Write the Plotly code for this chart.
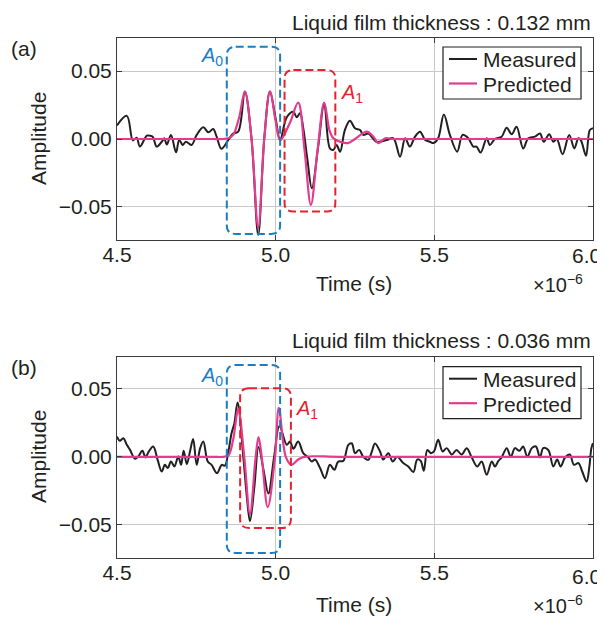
import plotly.graph_objects as go

# ---------------- data (time in microseconds, amplitude) ----------------
MEASURED_A = [
    (4.500, 0.010), (4.531, 0.017), (4.550, -0.001), (4.562, 0.001), (4.572, -0.0056),
    (4.594, 0.0024), (4.604, 0.0024), (4.613, 0.0015), (4.625, -0.0056), (4.641, -0.002),
    (4.649, 0.0005), (4.657, -0.004), (4.670, 0.003), (4.686, -0.0098), (4.696, -0.0007),
    (4.707, -0.0044), (4.717, -0.002), (4.735, -0.0044), (4.751, 0.003), (4.772, 0.0086),
    (4.788, 0.0049), (4.803, 0.0073), (4.814, 0.0017), (4.829, -0.0072), (4.851, -0.0007),
    (4.866, 0.004), (4.882, 0.0054), (4.903, 0.0348), (4.924, 0.0), (4.945, -0.0706),
    (4.964, 0.0), (4.982, 0.0348), (5.000, 0.015), (5.014, -0.0007), (5.035, 0.016),
    (5.056, 0.020), (5.066, 0.016), (5.077, 0.019), (5.087, 0.0079), (5.100, -0.015),
    (5.114, -0.0362), (5.134, -0.0056), (5.153, 0.026), (5.171, -0.0069), (5.182, -0.008),
    (5.192, -0.0044), (5.203, -0.0093), (5.218, 0.0066), (5.234, 0.0135), (5.250, 0.0079),
    (5.266, 0.0066), (5.276, 0.003), (5.292, 0.004), (5.318, -0.002), (5.350, -0.0007),
    (5.371, 0.0005), (5.392, -0.013), (5.408, 0.0005), (5.423, -0.0056), (5.439, 0.0017),
    (5.455, 0.0054), (5.471, -0.0007), (5.486, -0.002), (5.497, -0.003), (5.512, 0.0005),
    (5.530, 0.018), (5.549, 0.003), (5.572, -0.0093), (5.589, 0.003), (5.607, 0.0005),
    (5.623, -0.0056), (5.633, -0.0056), (5.646, -0.010), (5.665, 0.0005), (5.675, -0.0044),
    (5.691, 0.0), (5.712, 0.0017), (5.728, 0.0083), (5.744, 0.0035), (5.759, 0.009),
    (5.780, -0.0069), (5.796, 0.0005), (5.817, 0.0017), (5.833, 0.004), (5.845, -0.002),
    (5.862, 0.0035), (5.875, -0.002), (5.886, 0.0), (5.904, -0.0112), (5.925, 0.003),
    (5.941, -0.0069), (5.954, 0.0005), (5.962, -0.001), (5.978, -0.0123), (5.990, 0.0066),
    (6.000, 0.008),
]

PREDICTED_A = [
    (4.500, 0.0), (4.700, 0.0), (4.800, 0.0), (4.835, 0.0), (4.850, 0.0005), (4.866, 0.003),
    (4.885, 0.016), (4.903, 0.035), (4.924, 0.0), (4.945, -0.065), (4.964, 0.0),
    (4.982, 0.035), (5.000, 0.013), (5.014, -0.001), (5.045, 0.012), (5.071, 0.0267),
    (5.091, -0.008), (5.111, -0.0485), (5.132, -0.008), (5.153, 0.0267), (5.170, 0.006),
    (5.182, 0.0005), (5.203, -0.002), (5.228, -0.003), (5.250, 0.0), (5.287, 0.0054),
    (5.308, 0.0017), (5.323, -0.003), (5.345, 0.0005), (5.370, 0.0), (5.450, 0.0),
    (5.600, 0.0), (6.000, 0.0),
]

MEASURED_B = [
    (4.500, 0.0149), (4.509, 0.0118), (4.520, 0.0137), (4.531, 0.0088), (4.541, 0.0051),
    (4.557, -0.0015), (4.567, 0.0002), (4.580, 0.0044), (4.590, -0.0005), (4.599, 0.0035),
    (4.614, 0.0076), (4.628, -0.0022), (4.641, -0.0108), (4.651, -0.0059), (4.660, -0.0083),
    (4.670, -0.0035), (4.681, -0.0071), (4.693, 0.0002), (4.702, -0.0059), (4.710, 0.0044),
    (4.720, -0.0054), (4.730, 0.0039), (4.740, 0.0132), (4.751, -0.0059), (4.762, 0.0064),
    (4.772, 0.0112), (4.786, -0.0035), (4.798, -0.0059), (4.815, -0.012), (4.830, -0.0059),
    (4.840, -0.0065), (4.851, 0.0039), (4.861, 0.0174), (4.870, 0.0248), (4.880, 0.040),
    (4.898, 0.0), (4.909, -0.029), (4.919, -0.0475), (4.933, -0.0218), (4.946, 0.0072),
    (4.962, -0.010), (4.977, -0.027), (4.995, 0.0), (5.012, 0.0226), (5.035, 0.0088),
    (5.045, 0.0112), (5.056, 0.006), (5.071, 0.0112), (5.087, 0.0027), (5.103, -0.0005),
    (5.114, -0.0035), (5.124, -0.002), (5.140, -0.0083), (5.155, -0.0157), (5.171, -0.0059),
    (5.185, -0.0096), (5.197, -0.0035), (5.213, -0.003), (5.229, 0.0088), (5.240, 0.0098),
    (5.250, 0.0027), (5.263, 0.0051), (5.276, 0.0), (5.292, -0.0022), (5.303, 0.0039),
    (5.313, 0.0098), (5.329, 0.0039), (5.339, -0.002), (5.355, 0.0027), (5.369, -0.0035),
    (5.383, 0.0), (5.402, -0.0046), (5.418, -0.0071), (5.434, -0.0112), (5.446, -0.002),
    (5.457, -0.003), (5.467, -0.0103), (5.478, 0.0051), (5.489, 0.0027), (5.499, 0.004),
    (5.512, 0.0125), (5.526, 0.0039), (5.539, 0.0064), (5.555, 0.0017), (5.570, 0.0051),
    (5.586, 0.0017), (5.602, 0.0064), (5.618, -0.0005), (5.635, -0.0071), (5.649, -0.0035),
    (5.665, -0.0132), (5.681, -0.0035), (5.691, -0.0071), (5.702, -0.003), (5.712, -0.0005),
    (5.728, 0.0064), (5.741, 0.0), (5.754, 0.0064), (5.768, 0.0045), (5.780, 0.0076),
    (5.793, 0.0), (5.807, 0.0064), (5.820, 0.0076), (5.833, -0.0005), (5.843, 0.0064),
    (5.859, 0.005), (5.875, -0.0071), (5.887, -0.002), (5.898, -0.0071), (5.912, -0.0005),
    (5.927, 0.0017), (5.940, -0.0059), (5.954, -0.0046), (5.966, -0.0108), (5.980, -0.0182),
    (5.988, -0.0083), (5.995, 0.0064), (6.000, 0.010),
]

PREDICTED_B = [
    (4.500, 0.0), (4.700, 0.0), (4.800, 0.0), (4.835, 0.0), (4.851, 0.001), (4.866, 0.0125),
    (4.882, 0.035), (4.901, 0.0), (4.919, -0.042), (4.937, 0.0), (4.946, 0.0145),
    (4.956, 0.0), (4.975, -0.037), (4.998, 0.0), (5.010, 0.036), (5.032, 0.0),
    (5.050, -0.0059), (5.071, -0.002), (5.090, 0.0), (5.200, 0.0), (5.500, 0.0), (6.000, 0.0),
]

SERIES_NAMES = ["Measured", "Predicted"]
TITLES = ["Liquid film thickness : 0.132 mm", "Liquid film thickness : 0.036 mm"]
PANEL_LABELS = ["(a)", "(b)"]
X_TICKS = [4.5, 5.0, 5.5, 6.0]
X_TICK_TEXT = ["4.5", "5.0", "5.5", ""]   # last label ("6.0") drawn right-aligned below
X_END_LABEL = "6.0"
Y_TICKS = [-0.05, 0.0, 0.05]
Y_TICK_TEXT = ["\u22120.05", "0.00", "0.05"]

# window boxes (time range, amplitude range) for each panel
A0_BOX = [(4.846, 5.014, -0.0698, 0.0678), (4.846, 5.014, -0.0708, 0.0676)]
A1_BOX = [(5.028, 5.188, -0.0534, 0.0507), (4.888, 5.048, -0.0524, 0.0505)]
A0_LABEL = [(4.798, 0.0605), (4.798, 0.059)]
A1_LABEL = [(5.240, 0.0336), (5.098, 0.0345)]

# ---------------- styling ----------------
FONT = "Arial, Liberation Sans, Helvetica, sans-serif"
BLACK = "#231f20"
PINK = "#e33b8e"
BLUE = "#1a7dc1"
RED = "#e52330"
FS = 21

OFF = 8  # default page body margin of the html page
W, H = 605 - OFF, 617 - OFF
ML, MR, MT, MB = 117 - OFF, 12, 38 - OFF, 59
PH = H - MT - MB
PW = W - ML - MR


def py(p):  # screen pixel y -> paper y
    return (H - MB - (p - OFF)) / PH


def px(p):  # screen pixel x -> paper x
    return ((p - OFF) - ML) / PW


def unzip(pairs):
    return [p[0] for p in pairs], [p[1] for p in pairs]


def rrect(x0, x1, y0, y1, rx=0.028, ry=0.0062):
    return (f"M {x0+rx},{y1} L {x1-rx},{y1} Q {x1},{y1} {x1},{y1-ry} "
            f"L {x1},{y0+ry} Q {x1},{y0} {x1-rx},{y0} L {x0+rx},{y0} "
            f"Q {x0},{y0} {x0},{y0+ry} L {x0},{y1-ry} Q {x0},{y1} {x0+rx},{y1} Z")


fig = go.Figure()

panels = [(MEASURED_A, PREDICTED_A), (MEASURED_B, PREDICTED_B)]
for i, (meas, pred) in enumerate(panels):
    xa = "x" if i == 0 else "x2"
    ya = "y" if i == 0 else "y2"
    tx, ty = unzip(meas)
    fig.add_trace(go.Scatter(x=tx, y=ty, mode="lines", name=SERIES_NAMES[0],
                             line=dict(color=BLACK, width=2.0, shape="spline", smoothing=1.0),
                             xaxis=xa, yaxis=ya, showlegend=False))
    tx, ty = unzip(pred)
    fig.add_trace(go.Scatter(x=tx, y=ty, mode="lines", name=SERIES_NAMES[1],
                             line=dict(color=PINK, width=2.2, shape="spline", smoothing=1.0),
                             xaxis=xa, yaxis=ya, showlegend=False))

    for box, col in ((A0_BOX[i], BLUE), (A1_BOX[i], RED)):
        fig.add_shape(type="path", path=rrect(*box), xref=xa, yref=ya,
                      line=dict(color=col, width=2, dash="8px,4px"), layer="above")
    fig.add_annotation(x=A0_LABEL[i][0], y=A0_LABEL[i][1], xref=xa, yref=ya,
                       text="<i>A</i><sub>0</sub>", showarrow=False,
                       font=dict(family=FONT, size=20, color=BLUE))
    fig.add_annotation(x=A1_LABEL[i][0], y=A1_LABEL[i][1], xref=xa, yref=ya,
                       text="<i>A</i><sub>1</sub>", showarrow=False,
                       font=dict(family=FONT, size=20, color=RED))
    # end-of-axis tick label, right-aligned so it stays inside the page
    fig.add_annotation(x=X_TICKS[-1], y=py(256 if i == 0 else 576), xref=xa, yref="paper",
                       xanchor="right", yanchor="middle", xshift=10, text=X_END_LABEL,
                       showarrow=False, font=dict(family=FONT, size=FS, color=BLACK))

# compact legend box for each panel (drawn in paper coordinates)
for top in (47, 366.7):
    fig.add_shape(type="rect", xref="paper", yref="paper",
                  x0=px(443), x1=px(581), y0=py(top + 52), y1=py(top),
                  line=dict(color=BLACK, width=1.2), fillcolor="white", layer="above")
    for k, (name, col, wdt) in enumerate(((SERIES_NAMES[0], BLACK, 2.0),
                                          (SERIES_NAMES[1], PINK, 2.2))):
        yy = top + 12 + 24.5 * k
        fig.add_shape(type="line", xref="paper", yref="paper",
                      x0=px(449), x1=px(477), y0=py(yy), y1=py(yy),
                      line=dict(color=col, width=wdt), layer="above")
        fig.add_annotation(x=px(481), y=py(yy + 1), xref="paper", yref="paper",
                           xanchor="left", yanchor="middle", text=name, showarrow=False,
                           font=dict(family=FONT, size=FS, color=BLACK))

axis_common = dict(showline=True, linecolor="#3a3a3a", linewidth=1, mirror="ticks",
                   ticks="inside", ticklen=5, tickcolor="#3a3a3a",
                   showgrid=True, gridcolor="#c9c9c9", gridwidth=1, zeroline=False,
                   automargin=False,
                   tickfont=dict(family=FONT, size=FS, color=BLACK))

top_dom = [py(240), 1.0]
bot_dom = [0.0, py(357)]

fig.update_layout(
    width=W, height=H, autosize=False,
    margin=dict(l=ML, r=MR, t=MT, b=MB, autoexpand=False),
    paper_bgcolor="white", plot_bgcolor="white",
    font=dict(family=FONT, size=FS, color=BLACK),
    xaxis=dict(domain=[0, 1], anchor="y", range=[4.5, 6.0], tickvals=X_TICKS,
               ticktext=X_TICK_TEXT, ticklabelstandoff=-4, **axis_common),
    yaxis=dict(domain=top_dom, anchor="x", range=[-0.0743, 0.0743], tickvals=Y_TICKS,
               ticktext=Y_TICK_TEXT, **axis_common),
    xaxis2=dict(domain=[0, 1], anchor="y2", range=[4.5, 6.0], tickvals=X_TICKS,
                ticktext=X_TICK_TEXT, ticklabelstandoff=-4, **axis_common),
    yaxis2=dict(domain=bot_dom, anchor="x2", range=[-0.0745, 0.0735], tickvals=Y_TICKS,
                ticktext=Y_TICK_TEXT, **axis_common),
    showlegend=False,
)

# text annotations (titles, panel labels, axis labels)
for i, (ty_title, ty_panel, ty_xlab, ty_amp) in enumerate(
        [(22, 48, 283, 139), (341, 367, 604, 457)]):
    fig.add_annotation(x=1.0, y=py(ty_title), xref="paper", yref="paper", xanchor="right",
                       yanchor="middle", text=TITLES[i], showarrow=False,
                       font=dict(family=FONT, size=FS, color=BLACK))
    fig.add_annotation(x=px(24), y=py(ty_panel), xref="paper", yref="paper",
                       xanchor="center", yanchor="middle", text=PANEL_LABELS[i],
                       showarrow=False, font=dict(family=FONT, size=FS, color=BLACK))
    fig.add_annotation(x=px(354), y=py(ty_xlab), xref="paper", yref="paper",
                       xanchor="center", yanchor="middle", text="Time (s)",
                       showarrow=False, font=dict(family=FONT, size=FS, color=BLACK))
    fig.add_annotation(x=px(585), y=py(ty_xlab), xref="paper", yref="paper",
                       xanchor="right", yanchor="middle", text="\u00d710<sup>\u22126</sup>",
                       showarrow=False, font=dict(family=FONT, size=20, color=BLACK))
    fig.add_annotation(x=px(38), y=py(ty_amp), xref="paper", yref="paper",
                       xanchor="center", yanchor="middle", text="Amplitude", textangle=-90,
                       showarrow=False, font=dict(family=FONT, size=FS, color=BLACK))

fig.write_html("out.html")
